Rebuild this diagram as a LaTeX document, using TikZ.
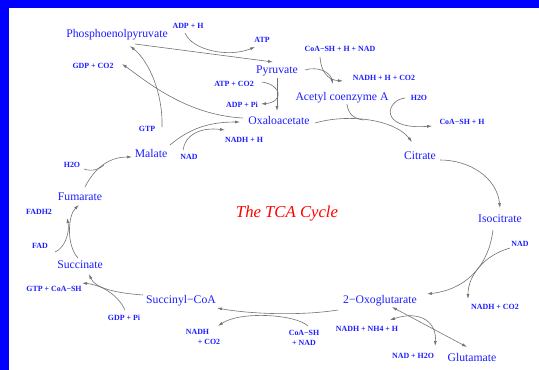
\documentclass[tikz,border=0pt]{standalone}
\usepackage{fontspec}
\setmainfont{Liberation Serif}
\usetikzlibrary{arrows.meta}
\definecolor{linegray}{gray}{0.45}
\definecolor{txtblue}{RGB}{30,30,255}
\definecolor{framblue}{RGB}{0,0,255}
\begin{document}
\begin{tikzpicture}[x=1pt,y=-1pt,
  compound/.style={text=txtblue,font=\fontsize{11.7}{13}\selectfont,inner sep=1pt},
  cofactor/.style={text=txtblue,font=\bfseries\fontsize{7.9}{9.5}\selectfont,inner sep=1pt},
  rxn/.style={draw=linegray,line width=0.6pt,-{Latex[length=5pt,width=3pt]}},
  link/.style={draw=linegray,line width=0.6pt},
  both/.style={draw=linegray,line width=0.6pt,{Latex[length=5pt,width=3pt]}-{Latex[length=5pt,width=3pt]}}]
\useasboundingbox (0,0) rectangle (539,370);
\fill[white] (0,0) rectangle (539,370);
% frame strips
\fill[framblue] (0,0) rectangle (8.5,370);
\fill[framblue] (0,0) rectangle (539,7.5);

% compounds
\node[compound] (pep) at (117,35) {Phosphoenolpyruvate};
\node[compound] (pyr) at (277,71) {Pyruvate};
\node[compound] (oxa) at (279,120) {Oxaloacetate};
\node[compound] (aca) at (342,98) {Acetyl coenzyme A};
\node[compound] (cit) at (420,156) {Citrate};
\node[compound] (iso) at (500,219) {Isocitrate};
\node[compound] (oxg) at (380,301) {2−Oxoglutarate};
\node[compound] (glu) at (472,357) {Glutamate};
\node[compound] (sca) at (181,301) {Succinyl−CoA};
\node[compound] (suc) at (80,265) {Succinate};
\node[compound] (fum) at (80,197) {Fumarate};
\node[compound] (mal) at (151,153) {Malate};
\node[text=red,font=\itshape\fontsize{16.7}{19}\selectfont] (title) at (287,214) {The TCA Cycle};

% cofactors
\node[cofactor] (adph) at (188,26) {ADP + H};
\node[cofactor] (atp) at (262,40) {ATP};
\node[cofactor] (gdpco2) at (93,66) {GDP + CO2};
\node[cofactor] (gtp) at (147,129) {GTP};
\node[cofactor] (atpco2) at (234,84) {ATP + CO2};
\node[cofactor] (adppi) at (242,105) {ADP + Pi};
\node[cofactor] (coanad) at (340,49) {CoA−SH + H + NAD};
\node[cofactor] (nadhco2a) at (384,78) {NADH + H + CO2};
\node[cofactor] (h2oa) at (419,98) {H2O};
\node[cofactor] (coash) at (462,122) {CoA−SH + H};
\node[cofactor] (nadi) at (520,244) {NAD};
\node[cofactor] (nadhco2b) at (495,307) {NADH + CO2};
\node[cofactor,align=center] (coanad2) at (304,338) {CoA−SH\\+ NAD};
\node[cofactor,align=left] (nadhco2c) at (203,337) {NADH\\\hspace*{12pt}+ CO2};
\node[cofactor] (gdppi) at (124,318) {GDP + Pi};
\node[cofactor] (gtpcoa) at (54,289) {GTP + CoA−SH};
\node[cofactor] (fad) at (40,246) {FAD};
\node[cofactor] (fadh2) at (39,212) {FADH2};
\node[cofactor] (h2ob) at (72,165) {H2O};
\node[cofactor] (nadm) at (189,157) {NAD};
\node[cofactor] (nadhh) at (244,140) {NADH + H};
\node[cofactor] (nadhnh4) at (367,329) {NADH + NH4 + H};
\node[cofactor] (nadh2o) at (413,356) {NAD + H2O};

% junctions where a co-substrate joins a reaction line
\coordinate (jcit) at (364,120);
\coordinate (jmal) at (104,165);

% Phosphoenolpyruvate -> Pyruvate
\draw[rxn] ([shift={(18,9)}]pep.center) -- ([shift={(-4,-9)}]pyr.center);
\draw[rxn] ([shift={(-3,7)}]adph.center) .. controls (192,50) and (228,58) .. ([shift={(-7,7)}]atp.center);
% Oxaloacetate + GTP -> Phosphoenolpyruvate + GDP + CO2
\draw[rxn] ([shift={(15,-2)}]gtp.center) .. controls (163,95) and (150,62) .. ([shift={(13,11)}]pep.center);
\draw[rxn] ([shift={(-36,-2)}]oxa.center) .. controls (185,115) and (145,80) .. ([shift={(29,-2)}]gdpco2.center);
% Pyruvate -> Oxaloacetate
\draw[rxn] ([shift={(0,7)}]pyr.center) -- ([shift={(-2,-9)}]oxa.center);
\draw[rxn] ([shift={(28,-2)}]atpco2.center) .. controls (282,85) and (284,102) .. ([shift={(19,-1)}]adppi.center);
% Pyruvate -> Acetyl coenzyme A
\draw[rxn] ([shift={(28,-1)}]pyr.center) .. controls (318,66) and (330,72) .. ([shift={(-9,-14)}]aca.center);
\draw[rxn] ([shift={(-20,8)}]coanad.center) .. controls (321,72) and (328,80) .. ([shift={(-41,3)}]nadhco2a.center);
% Acetyl coenzyme A + Oxaloacetate -> Citrate
\draw[rxn] ([shift={(36,3)}]oxa.center) .. controls (350,113) and (395,120) .. ([shift={(-8,-14)}]cit.center);
\draw[link] ([shift={(5,6)}]aca.center) .. controls (348,114) and (354,119) .. (jcit);
\draw[rxn] ([shift={(-14,0)}]h2oa.center) .. controls (386,100) and (378,130) .. ([shift={(-30,4)}]coash.center);
% Citrate -> Isocitrate
\draw[rxn] ([shift={(20,4)}]cit.center) .. controls (470,160) and (497,178) .. ([shift={(0,-11)}]iso.center);
% Isocitrate -> 2-Oxoglutarate
\draw[rxn] ([shift={(-7,11)}]iso.center) .. controls (488,270) and (462,290) .. ([shift={(47,-7)}]oxg.center);
\draw[rxn] ([shift={(-10,4)}]nadi.center) .. controls (485,255) and (468,275) .. ([shift={(-27,-8)}]nadhco2b.center);
% 2-Oxoglutarate -> Succinyl-CoA
\draw[rxn] ([shift={(-42,9)}]oxg.center) .. controls (300,316) and (250,314) .. ([shift={(36,7)}]sca.center);
\draw[rxn] ([shift={(4,-12)}]coanad2.center) .. controls (295,314) and (240,311) .. ([shift={(15,-11)}]nadhco2c.center);
% Succinyl-CoA -> Succinate
\draw[rxn] ([shift={(-38,-6)}]sca.center) .. controls (115,293) and (95,288) .. ([shift={(9,9)}]suc.center);
\draw[rxn] ([shift={(1,-8)}]gdppi.center) .. controls (118,295) and (102,285) .. ([shift={(28,-6)}]gtpcoa.center);
% Succinate -> Fumarate
\draw[rxn] ([shift={(-2,-7)}]suc.center) .. controls (66,245) and (68,215) .. ([shift={(-1,8)}]fum.center);
\draw[rxn] ([shift={(15,6)}]fad.center) .. controls (65,248) and (70,232) .. ([shift={(28,6)}]fadh2.center);
% Fumarate -> Malate
\draw[rxn] ([shift={(5,-10)}]fum.center) .. controls (95,167) and (110,157) .. ([shift={(-19,4)}]mal.center);
\draw[link] ([shift={(12,4)}]h2ob.center) .. controls (92,172) and (100,169) .. (jmal);
% Malate -> Oxaloacetate
\draw[rxn] ([shift={(19,-8)}]mal.center) .. controls (190,128) and (210,122) .. ([shift={(-39,2)}]oxa.center);
\draw[rxn] ([shift={(-6,-7)}]nadm.center) .. controls (185,135) and (200,127) .. ([shift={(-19,-10)}]nadhh.center);
% 2-Oxoglutarate <-> Glutamate
\draw[both] ([shift={(12,6)}]oxg.center) -- ([shift={(-5,-10)}]glu.center);
\draw[both] ([shift={(23,-9)}]nadhnh4.center) .. controls (420,310) and (437,322) .. ([shift={(22,-10)}]nadh2o.center);
\end{tikzpicture}
\end{document}
